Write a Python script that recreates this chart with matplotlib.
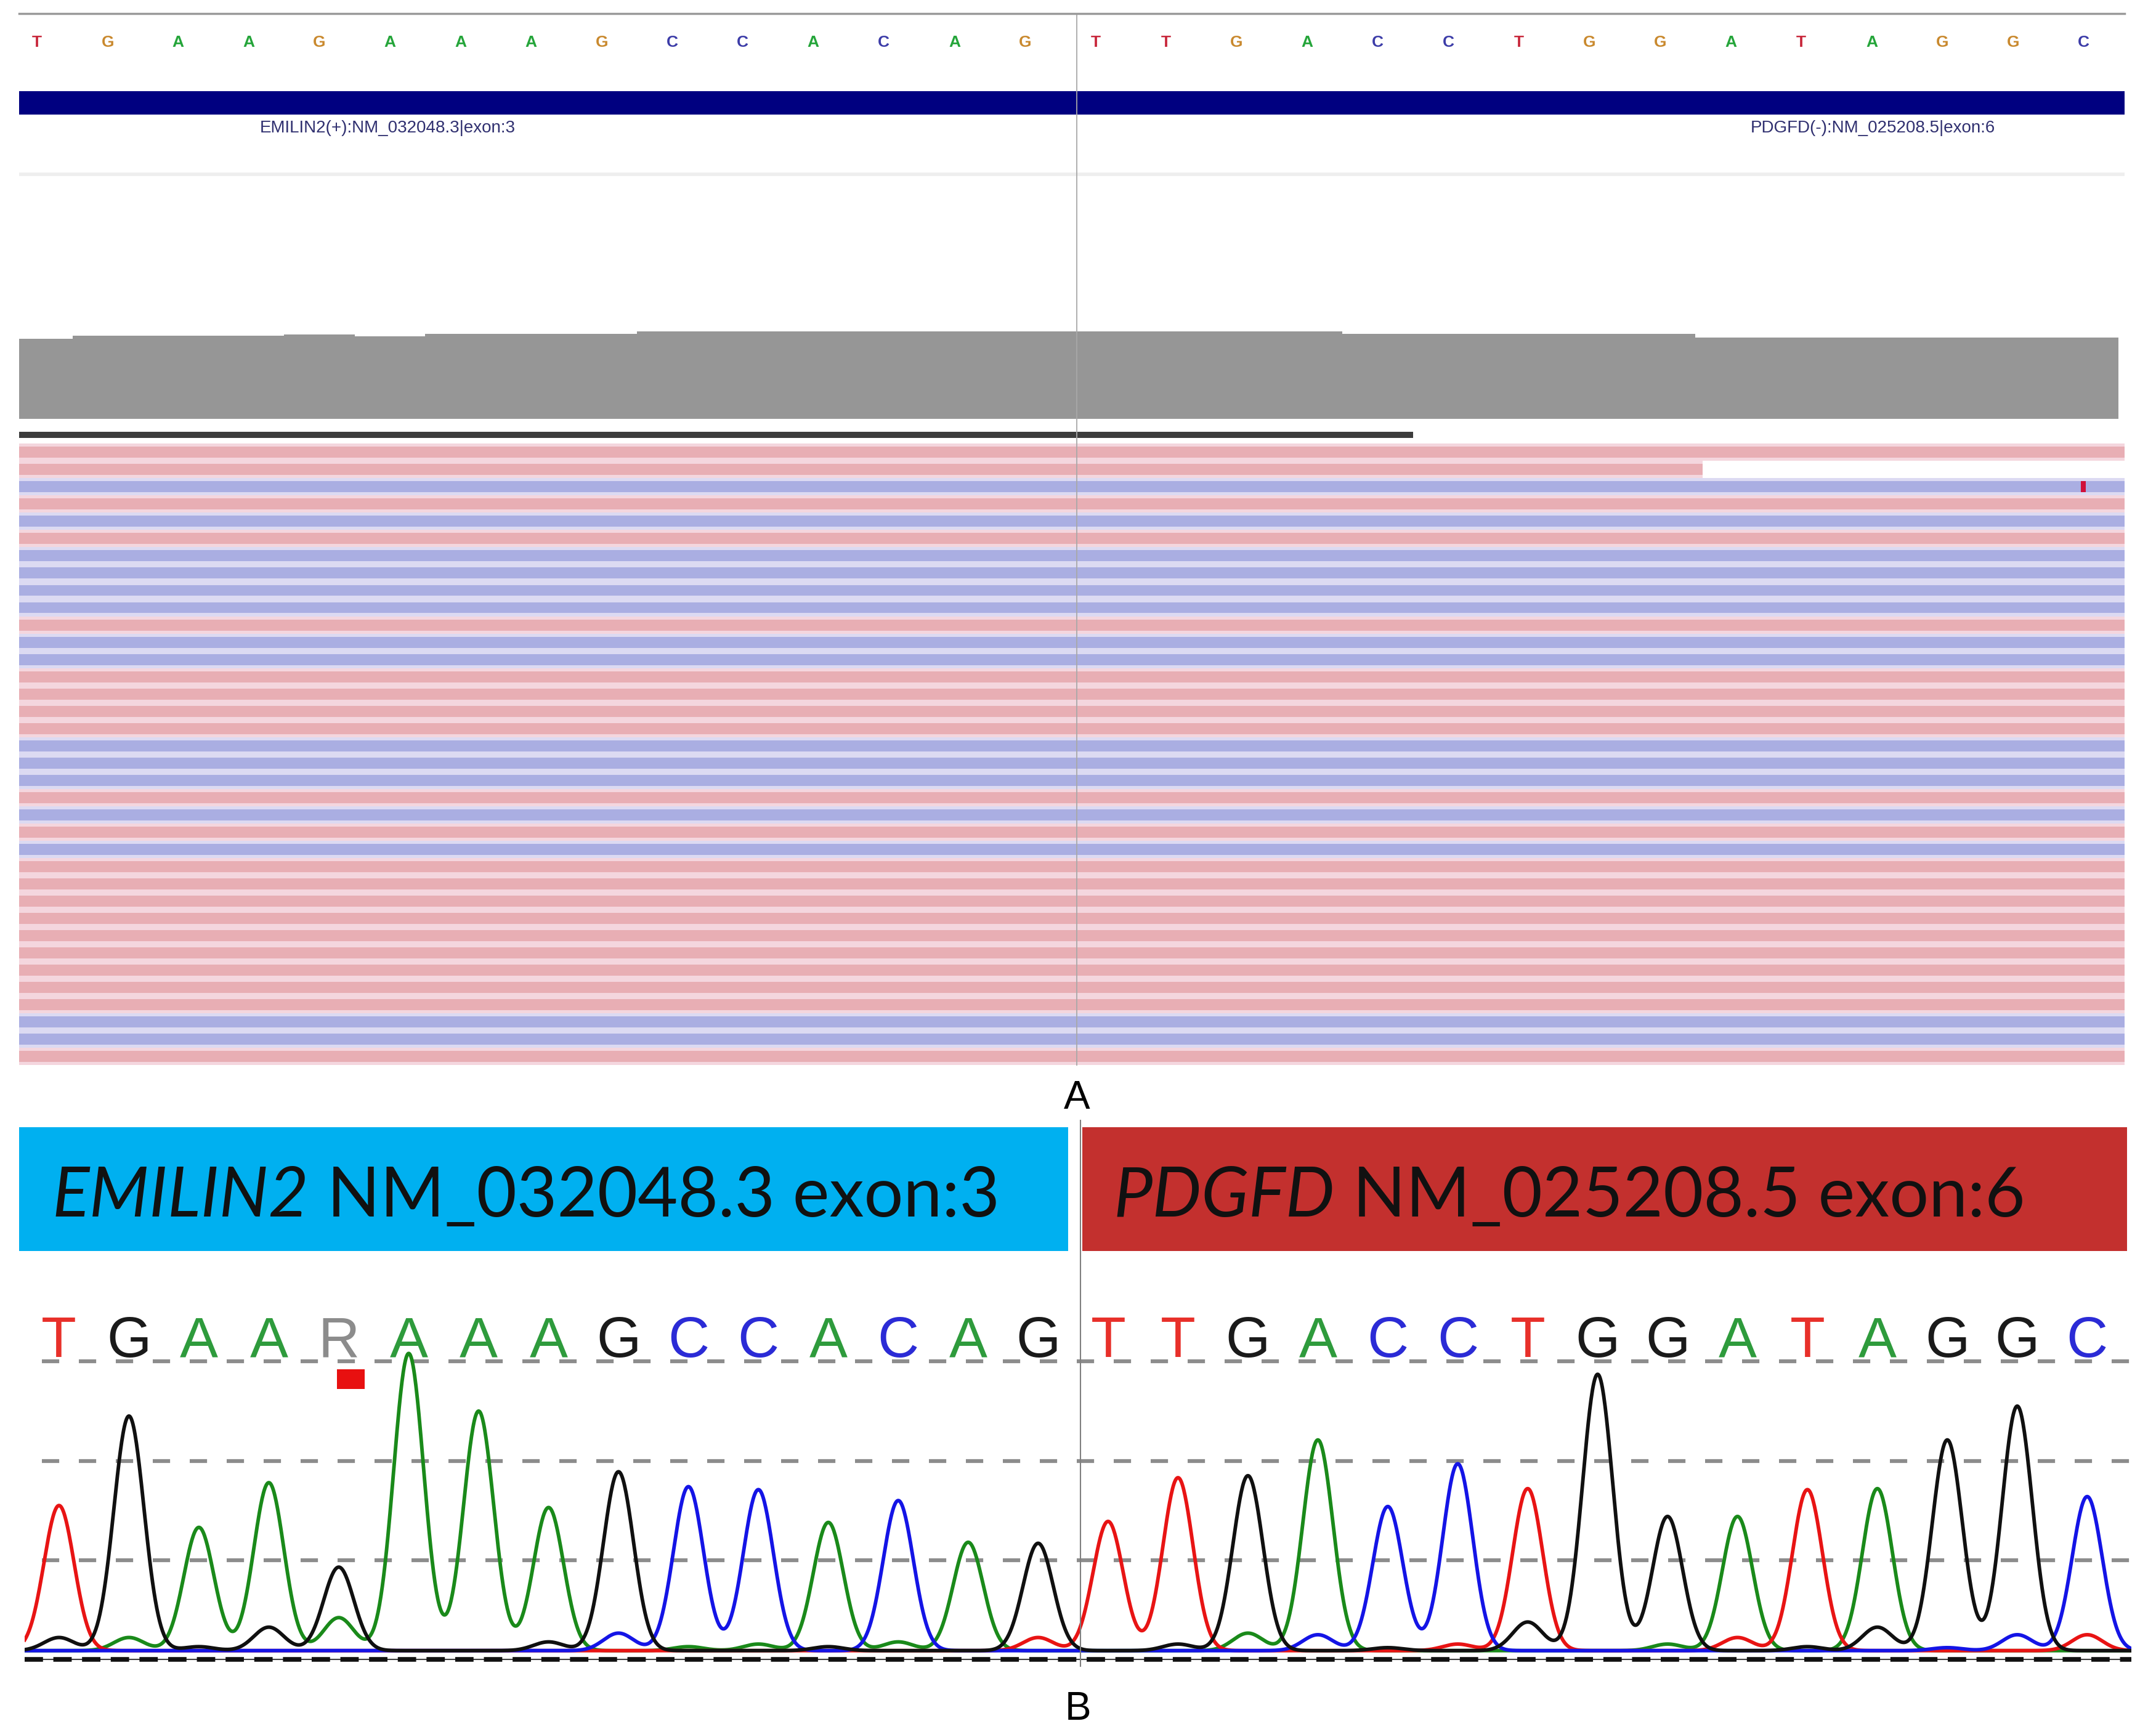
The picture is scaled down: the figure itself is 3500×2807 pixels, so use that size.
import numpy as np
import matplotlib
matplotlib.use('Agg')
import matplotlib.pyplot as plt
from matplotlib.patches import Rectangle
from matplotlib.lines import Line2D

# -------------------------
# DATA
# -------------------------
# reference sequence shown in the IGV window (one letter per base)
ref_bases = list("TGAAGAAAGCCACAGTTGACCTGGATAGGC")

# coverage track, per base
coverage = [234, 242, 242, 242, 246, 240, 248, 248, 248, 254,
            254, 254, 254, 254, 254, 254, 254, 254, 254, 248,
            248, 248, 248, 248, 236, 236, 236, 236, 236, 236]

# gene features: label, start, end, label anchor (base units)
gene_names = ["EMILIN2(+):NM_032048.3|exon:3", "PDGFD(-):NM_025208.5|exon:6"]
gene_starts = [0.0, 15.23]
gene_ends = [15.23, 31.0]
gene_label_x = [5.47, 26.52]

# downsampled interval marker above the reads
downsampled = (0.0, 20.0)

# reads, top to bottom: strand and end position (all start left of view)
read_strand = ["+", "+", "-", "+", "-", "+", "-", "-", "-", "-",
               "+", "-", "-", "+", "+", "+", "+", "-", "-", "-",
               "+", "-", "+", "-", "+", "+", "+", "+", "+", "+",
               "+", "+", "+", "-", "-", "+"]
read_end = [31.0, 24.1, 31.0, 31.0, 31.0, 31.0, 31.0, 31.0, 31.0, 31.0,
            31.0, 31.0, 31.0, 31.0, 31.0, 31.0, 31.0, 31.0, 31.0, 31.0,
            31.0, 31.0, 31.0, 31.0, 31.0, 31.0, 31.0, 31.0, 31.0, 31.0,
            31.0, 31.0, 31.0, 31.0, 31.0, 31.0]
mismatch_read = 2
mismatch_base = 29

junction_igv = 15.23

# Sanger trace: called bases, main peak channel and height
called_bases = list("TGAARAAAGCCACAGTTGACCTGGATAGGC")
peak_channel = list("TGAAGAAAGCCACAGTTGACCTGGATAGGC")
peak_height = [730, 1180, 620, 845, 420, 1495, 1205, 720, 900, 825,
               810, 645, 755, 545, 520, 650, 870, 880, 1060, 725,
               940, 815, 1390, 675, 675, 810, 815, 1060, 1230, 775]
# secondary / background peaks: (base, channel, height)
minor_peaks = [(0, "G", 66), (1, "A", 66), (2, "G", 20), (3, "G", 118),
               (4, "A", 166), (7, "G", 44), (8, "C", 88), (9, "A", 20),
               (10, "A", 33), (11, "G", 20), (12, "A", 44), (14, "G", 20),
               (14, "T", 66), (16, "G", 33), (17, "A", 88), (18, "C", 80),
               (19, "G", 15), (20, "T", 33), (21, "G", 144), (23, "A", 33),
               (24, "T", 66), (25, "G", 20), (26, "G", 118), (27, "C", 15),
               (28, "C", 80), (29, "T", 80)]
het_base = 4
junction_sanger = 14.61

# -------------------------
# STYLE
# -------------------------
IGV_BASE_COL = {"A": "#25A53A", "C": "#3C3CA8", "G": "#C9892E", "T": "#C8283C"}
TRACE_COL = {"A": "#1A8A1A", "C": "#1414E6", "G": "#101010", "T": "#E81414"}
LETTER_COL = {"A": "#2E9B3C", "C": "#2B2BD6", "G": "#1A1A1A", "T": "#E8302A", "R": "#8C8C8C"}
READ_COL = {"+": ("#E8AEB4", "#F4D6DE"), "-": ("#AAAEE2", "#DCDAF2")}

W, H = 1568.0, 1257.5
IGV_X = (0.247, 30.08)
SANGER_X = (-0.49, 29.63)

fig = plt.figure(figsize=(35, 28.07), dpi=100)


def add_box(x0, y0, x1, y1, face="none", z=1):
    ax = fig.add_axes([x0 / W, 1 - y1 / H, (x1 - x0) / W, (y1 - y0) / H],
                      facecolor=face, zorder=z)
    for s in ax.spines.values():
        s.set_visible(False)
    ax.set_xticks([])
    ax.set_yticks([])
    return ax


# -------------------------
# PANEL A (IGV)
# -------------------------
ax_seq = add_box(14, 18, 1545, 44)
ax_seq.set_xlim(*IGV_X)
ax_seq.set_ylim(0, 1)
for k, b in enumerate(ref_bases):
    ax_seq.text(k + 0.5, 0.5, b, color=IGV_BASE_COL[b], fontsize=19,
                fontweight="bold", ha="center", va="center", family="Liberation Sans")

ax_gene = add_box(14, 60, 1545, 110)
ax_gene.set_xlim(*IGV_X)
ax_gene.set_ylim(110, 60)
for name, s, e, lx in zip(gene_names, gene_starts, gene_ends, gene_label_x):
    ax_gene.barh(75, e - s, left=s, height=17, color="#000080", lw=0)
    ax_gene.text(lx, 93, name, color="#303070", fontsize=20, ha="center",
                 va="center", family="Liberation Sans")

ax_cov = add_box(14, 240.7, 1545, 304.7)
ax_cov.set_xlim(*IGV_X)
ax_cov.set_ylim(0, 256)
ax_cov.bar(np.arange(len(coverage)) + 0.5, coverage, width=1.0, color="#969696", lw=0)

ax_reads = add_box(14, 310.1, 1545, 774.7)
ax_reads.set_xlim(*IGV_X)
ax_reads.set_ylim(len(read_strand) - 0.5, -1.5)
ax_reads.barh(-1, downsampled[1] - downsampled[0], left=downsampled[0],
              height=0.36, color="#3C3C3C", lw=0)
for i, (st, end) in enumerate(zip(read_strand, read_end)):
    core, halo = READ_COL[st]
    ax_reads.barh(i, end, left=0, height=1.0, color=halo, lw=0)
for i, (st, end) in enumerate(zip(read_strand, read_end)):
    core, halo = READ_COL[st]
    ax_reads.barh(i, end, left=0, height=0.64, color=core, lw=0)
ax_reads.barh(mismatch_read, 0.07, left=mismatch_base + 0.5 - 0.035,
              height=0.64, color="#D0103A", lw=0)

# overlay: top border, separator and centre line
ax_igv = add_box(14, 9.7, 1545, 775, z=5)
ax_igv.set_xlim(*IGV_X)
ax_igv.set_ylim(775, 9.7)
ax_igv.spines["top"].set_visible(True)
ax_igv.spines["top"].set_color("#9A9A9A")
ax_igv.spines["top"].set_linewidth(2.5)
ax_igv.axhline(127, color="#EEEEEE", lw=4)
ax_igv.axvline(junction_igv, color="#A8A8A8", lw=1.3)

fig.text(783 / W, 1 - 806.3 / H, "A", fontsize=46, ha="center", va="baseline",
         family="Liberation Sans")

# -------------------------
# PANEL B (Sanger)
# -------------------------
ax_b1 = add_box(14, 820, 777, 910, face="#00B0F0")
ax_b2 = add_box(787, 820, 1547, 910, face="#C3302E")
for a in (ax_b1, ax_b2):
    a.set_xlim(0, 1)
    a.set_ylim(0, 1)

renderer = fig.canvas.get_renderer()


def gene_box_label(ax, x, y, name, rest, size):
    t1 = ax.text(x, y, name, style="italic", fontsize=size, family="Lato",
                 va="baseline", ha="left", color="#111111")
    bb = t1.get_window_extent(renderer)
    x1 = ax.transAxes.inverted().transform((bb.x1, bb.y0))[0]
    t2 = ax.text(x1, y, " " + rest, fontsize=size, family="Lato",
                 va="baseline", ha="left", color="#111111")
    return t1, t2


# size the box text so the first label spans its measured width
t1, t2 = gene_box_label(ax_b1, 0.0315, 0.278, "EMILIN2", "NM_032048.3 exon:3", 80)
width = t2.get_window_extent(renderer).x1 - t1.get_window_extent(renderer).x0
box_size = 80 * (689 * 3500 / W) / width
t1.remove()
t2.remove()
gene_box_label(ax_b1, 0.0315, 0.278, "EMILIN2", "NM_032048.3 exon:3", box_size)
gene_box_label(ax_b2, 0.030, 0.278, "PDGFD", "NM_025208.5 exon:6", box_size)

ax_tr = add_box(18, 940, 1550, 1215)
ax_tr.set_xlim(*SANGER_X)
ax_tr.set_ylim(-55.3, 1846.6)

for yv in (500, 1000, 1500):
    ax_tr.axhline(yv, xmin=0.008, color="#8C8C8C", lw=4.5, ls=(0, (4.5, 5.1)), zorder=1)
ax_tr.axhline(0, color="#404040", lw=1.5, zorder=1)
ax_tr.axhline(0, color="#111111", lw=5.5, ls=(0, (3.9, 2.2)), zorder=1)

xs = np.linspace(SANGER_X[0], SANGER_X[1], 3000)
sigma = 0.215
for ch in "ATCG":
    sig = np.full_like(xs, 45.0)
    for k, (c, h) in enumerate(zip(peak_channel, peak_height)):
        if c == ch:
            sig += h * np.exp(-(xs - k) ** 2 / (2 * sigma ** 2))
    for k, c, h in minor_peaks:
        if c == ch:
            sig += h * np.exp(-(xs - k) ** 2 / (2 * sigma ** 2))
    ax_tr.plot(xs, sig, color=TRACE_COL[ch], lw=4.2, zorder=3)

for k, b in enumerate(called_bases):
    ax_tr.text(k, 1521, b, color=LETTER_COL[b], fontsize=67, ha="center",
               va="baseline", family="Liberation Sans", zorder=4)

ax_tr.add_patch(Rectangle((het_base - 0.03, 1360), 0.4, 100, color="#E81010", lw=0, zorder=4))

fig.add_artist(Line2D([786 / W, 786 / W], [1 - 815 / H, 1 - 1212 / H],
                      color="#7F7F7F", lw=1.5))

fig.text(784 / W, 1 - 1250.7 / H, "B", fontsize=46, ha="center", va="baseline",
         family="Liberation Sans")

fig.savefig("out.png", dpi=100)
